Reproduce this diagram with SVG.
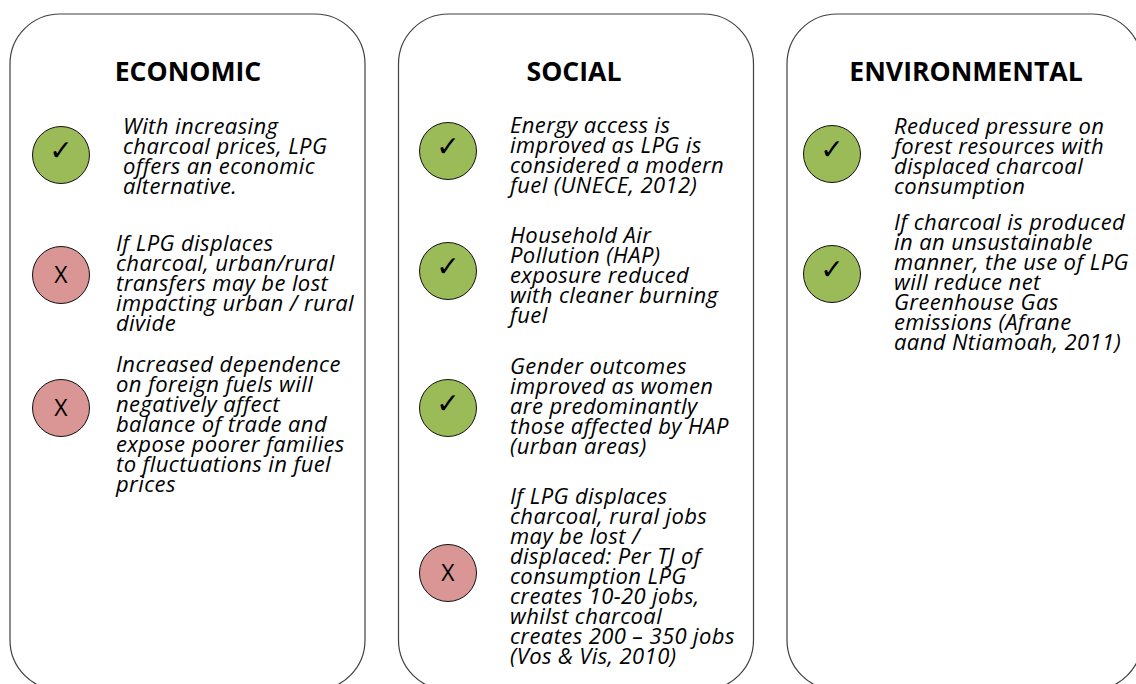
<svg xmlns="http://www.w3.org/2000/svg" width="1136" height="684" viewBox="0 0 1136 684">
<style>
.panel{fill:#fff;stroke:#404040;stroke-width:1.2}
.title{font:bold 26.6px "Open Sans","Liberation Sans",sans-serif;fill:#000;text-anchor:middle}
.body{font:italic 22px "Open Sans","Liberation Sans",sans-serif;letter-spacing:.4px;fill:#000;transform:translateY(1px)}
.yes{fill:#9bbb59;stroke:#111;stroke-width:1}
.no{fill:#d99694;stroke:#111;stroke-width:1}
.mark{font:28px "DejaVu Sans",sans-serif;fill:#000;text-anchor:middle}
.x{font:23px "Open Sans","Liberation Sans",sans-serif;fill:#000;text-anchor:middle}
</style>
<rect width="1136" height="684" fill="#fff"/>
<g id="economic">
<rect class="panel" x="10" y="14" width="355" height="676" rx="50"/>
<text class="title" x="188" y="81">ECONOMIC</text>
<circle class="yes" cx="61" cy="155" r="28.5"/><text class="mark" x="61" y="160">✓</text>
<text class="body"><tspan x="123" y="133">With increasing</tspan><tspan x="123" y="153">charcoal prices, LPG</tspan><tspan x="123" y="173">offers an economic</tspan><tspan x="123" y="193">alternative.</tspan></text>
<circle class="no" cx="61" cy="275" r="28.5"/><text class="x" x="61" y="283">X</text>
<text class="body"><tspan x="116" y="250">If LPG displaces</tspan><tspan x="116" y="270">charcoal, urban/rural</tspan><tspan x="116" y="290">transfers may be lost</tspan><tspan x="116" y="310">impacting urban / rural</tspan><tspan x="116" y="330">divide</tspan></text>
<circle class="no" cx="61" cy="408" r="28.5"/><text class="x" x="61" y="416">X</text>
<text class="body"><tspan x="116" y="371">Increased dependence</tspan><tspan x="116" y="391">on foreign fuels will</tspan><tspan x="116" y="411">negatively affect</tspan><tspan x="116" y="431">balance of trade and</tspan><tspan x="116" y="451">expose poorer families</tspan><tspan x="116" y="471">to fluctuations in fuel</tspan><tspan x="116" y="491">prices</tspan></text>
</g>
<g id="social">
<rect class="panel" x="398.5" y="14" width="355" height="676" rx="50"/>
<text class="title" x="574" y="81">SOCIAL</text>
<circle class="yes" cx="448" cy="151" r="28.5"/><text class="mark" x="448" y="156">✓</text>
<text class="body"><tspan x="510" y="132">Energy access is</tspan><tspan x="510" y="152">improved as LPG is</tspan><tspan x="510" y="172">considered a modern</tspan><tspan x="510" y="192">fuel (UNECE, 2012)</tspan></text>
<circle class="yes" cx="448" cy="271" r="28.5"/><text class="mark" x="448" y="276">✓</text>
<text class="body"><tspan x="510" y="242">Household Air</tspan><tspan x="510" y="262">Pollution (HAP)</tspan><tspan x="510" y="282">exposure reduced</tspan><tspan x="510" y="302">with cleaner burning</tspan><tspan x="510" y="322">fuel</tspan></text>
<circle class="yes" cx="448" cy="408" r="28.5"/><text class="mark" x="448" y="413">✓</text>
<text class="body"><tspan x="510" y="373">Gender outcomes</tspan><tspan x="510" y="393">improved as women</tspan><tspan x="510" y="413">are predominantly</tspan><tspan x="510" y="433">those affected by HAP</tspan><tspan x="510" y="453">(urban areas)</tspan></text>
<circle class="no" cx="448" cy="573" r="28.5"/><text class="x" x="448" y="581">X</text>
<text class="body"><tspan x="510" y="503">If LPG displaces</tspan><tspan x="510" y="523">charcoal, rural jobs</tspan><tspan x="510" y="543">may be lost /</tspan><tspan x="510" y="563">displaced: Per TJ of</tspan><tspan x="510" y="583">consumption LPG</tspan><tspan x="510" y="603">creates 10-20 jobs,</tspan><tspan x="510" y="623">whilst charcoal</tspan><tspan x="510" y="643">creates 200 – 350 jobs</tspan><tspan x="510" y="663">(Vos &amp; Vis, 2010)</tspan></text>
</g>
<g id="environmental">
<rect class="panel" x="787" y="14" width="355" height="676" rx="50"/>
<text class="title" x="966" y="81">ENVIRONMENTAL</text>
<circle class="yes" cx="832" cy="154" r="28.5"/><text class="mark" x="832" y="159">✓</text>
<text class="body"><tspan x="894" y="133">Reduced pressure on</tspan><tspan x="894" y="153">forest resources with</tspan><tspan x="894" y="173">displaced charcoal</tspan><tspan x="894" y="193">consumption</tspan></text>
<circle class="yes" cx="832" cy="274" r="28.5"/><text class="mark" x="832" y="279">✓</text>
<text class="body"><tspan x="894" y="229">If charcoal is produced</tspan><tspan x="894" y="249">in an unsustainable</tspan><tspan x="894" y="269">manner, the use of LPG</tspan><tspan x="894" y="289">will reduce net</tspan><tspan x="894" y="309">Greenhouse Gas</tspan><tspan x="894" y="329">emissions (Afrane</tspan><tspan x="894" y="349">aand Ntiamoah, 2011)</tspan></text>
</g>
</svg>
